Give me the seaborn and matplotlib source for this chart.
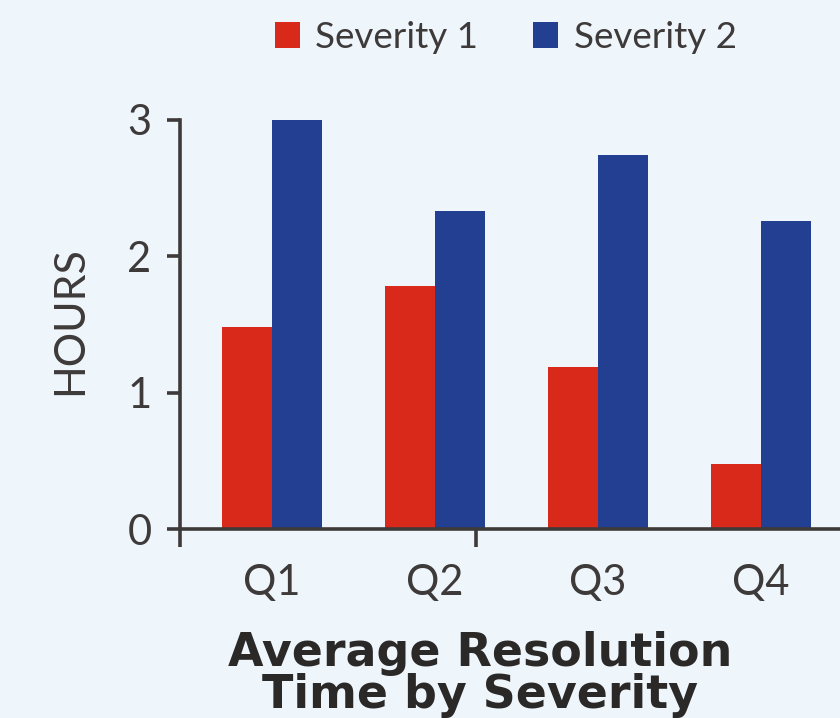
import matplotlib
matplotlib.use("Agg")
import matplotlib.pyplot as plt
import seaborn as sns
import pandas as pd
from matplotlib.patches import Patch

# Data
quarters = ["Q1", "Q2", "Q3", "Q4"]
severity_1 = [1.48, 1.78, 1.19, 0.48]
severity_2 = [3.0, 2.33, 2.74, 2.26]
series_names = ["Severity 1", "Severity 2"]
y_ticks = [0, 1, 2, 3]

BG = "#eef6fc"
INK = "#3e3a3a"
RED = "#d9291b"
BLUE = "#233f91"

df = pd.DataFrame({
    "quarter": quarters * 2,
    "hours": severity_1 + severity_2,
    "severity": [series_names[0]] * 4 + [series_names[1]] * 4,
})

sns.set_style("white")
plt.rcParams["font.family"] = ["Lato", "DejaVu Sans"]

fig = plt.figure(figsize=(8.4, 7.18), dpi=100, facecolor=BG)
ax = fig.add_axes([0.2143, 0.2632, 0.7857, 0.5697])
ax.set_facecolor(BG)

sns.barplot(data=df, x="quarter", y="hours", hue="severity",
            palette=[RED, BLUE], width=0.614, saturation=1,
            linewidth=0, ax=ax, legend=False)

ax.set_xlim(-0.564, 3.485)
ax.set_ylim(0, 3)
ax.set_yticks(y_ticks)
ax.set_yticklabels([str(t) for t in y_ticks])

for s in ["top", "right"]:
    ax.spines[s].set_visible(False)
for s in ["left", "bottom"]:
    ax.spines[s].set_color(INK)
    ax.spines[s].set_linewidth(2.6)
    ax.spines[s].set_zorder(5)

ax.tick_params(axis="y", left=True, direction="out", length=9.5, width=2.6,
               color=INK, labelsize=30, labelcolor=INK, pad=11)
ax.tick_params(axis="x", which="major", bottom=False, length=0,
               labelsize=30, labelcolor=INK, pad=25)
ax.set_xticks([-0.564, 1.25], minor=True)
ax.tick_params(axis="x", which="minor", bottom=True, direction="out",
               length=13, width=2.6, color=INK)

ax.set_xlabel("Average Resolution\nTime by Severity", fontsize=33,
              fontweight="bold", family="DejaVu Sans", color="#2b2828",
              linespacing=0.9)
ax.xaxis.set_label_coords(0.4545, -0.25)
ax.set_ylabel("HOURS", fontsize=31, color=INK)
ax.yaxis.set_label_coords(-0.137, 0.51)

handles = [Patch(facecolor=RED, edgecolor="none"),
           Patch(facecolor=BLUE, edgecolor="none")]
fig.legend(handles, series_names, loc="center left",
           bbox_to_anchor=(0.327, 0.948), ncol=2, frameon=False,
           fontsize=26.5, labelcolor=INK, handlelength=0.68,
           handleheight=0.68, handletextpad=0.42, columnspacing=1.5,
           borderpad=0, borderaxespad=0)

fig.savefig("out.png", dpi=100, facecolor=BG)
